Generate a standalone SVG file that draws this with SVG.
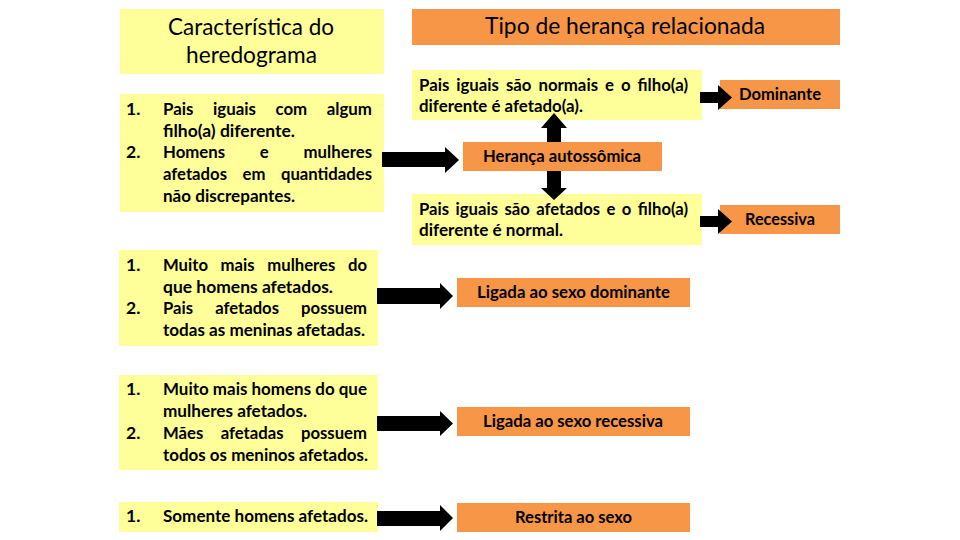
<svg xmlns="http://www.w3.org/2000/svg" width="960" height="540" viewBox="0 0 960 540">
<style>
.y{fill:#FFFF99}
.o{fill:#F79646}
.t{font-family:Lato,"Open Sans","Liberation Sans",sans-serif;font-size:17.5px;font-weight:700;fill:#000}
.h{font-family:Lato,"Open Sans","Liberation Sans",sans-serif;font-size:23px;font-weight:400;fill:#000}
.c{text-anchor:middle}
.arr{fill:#000}
</style>
<rect width="960" height="540" fill="#fff"/>
<g id="header-left">
<rect class="y" x="120" y="9" width="264" height="65"/>
<text class="h c" x="251" y="35" textLength="166" lengthAdjust="spacingAndGlyphs">Característica do</text>
<text class="h c" x="251.5" y="63" textLength="131" lengthAdjust="spacingAndGlyphs">heredograma</text>
</g>
<g id="header-right">
<rect class="o" x="412" y="9" width="428" height="36"/>
<text class="h c" x="625" y="34" textLength="280" lengthAdjust="spacingAndGlyphs">Tipo de herança relacionada</text>
</g>
<g id="box-autossomica-caract">
<rect class="y" x="120" y="94" width="264" height="118"/>
<text class="t" x="126" y="115">1.</text>
<text class="t" x="163" y="115" word-spacing="16" textLength="209" lengthAdjust="spacingAndGlyphs">Pais iguais com algum</text>
<text class="t" x="163" y="137" textLength="132" lengthAdjust="spacingAndGlyphs">filho(a) diferente.</text>
<text class="t" x="126" y="158">2.</text>
<text class="t" x="163" y="158" word-spacing="32" textLength="209" lengthAdjust="spacingAndGlyphs">Homens e mulheres</text>
<text class="t" x="163" y="180" word-spacing="12" textLength="209" lengthAdjust="spacingAndGlyphs">afetados em quantidades</text>
<text class="t" x="163" y="202" textLength="132" lengthAdjust="spacingAndGlyphs">não discrepantes.</text>
</g>
<g id="box-dominante-caract">
<rect class="y" x="119" y="250" width="259" height="96"/>
<text class="t" x="126" y="271">1.</text>
<text class="t" x="163" y="271" word-spacing="9" textLength="204" lengthAdjust="spacingAndGlyphs">Muito mais mulheres do</text>
<text class="t" x="163" y="293" textLength="170" lengthAdjust="spacingAndGlyphs">que homens afetados.</text>
<text class="t" x="126" y="314">2.</text>
<text class="t" x="163" y="314" word-spacing="19" textLength="204" lengthAdjust="spacingAndGlyphs">Pais afetados possuem</text>
<text class="t" x="163" y="336" textLength="202" lengthAdjust="spacingAndGlyphs">todas as meninas afetadas.</text>
</g>
<g id="box-recessiva-caract">
<rect class="y" x="119" y="375" width="259" height="95"/>
<text class="t" x="126" y="395">1.</text>
<text class="t" x="163" y="395" textLength="204" lengthAdjust="spacingAndGlyphs">Muito mais homens do que</text>
<text class="t" x="163" y="417" textLength="144" lengthAdjust="spacingAndGlyphs">mulheres afetados.</text>
<text class="t" x="126" y="439">2.</text>
<text class="t" x="163" y="439" word-spacing="14" textLength="204" lengthAdjust="spacingAndGlyphs">Mães afetadas possuem</text>
<text class="t" x="163" y="461" textLength="205" lengthAdjust="spacingAndGlyphs">todos os meninos afetados.</text>
</g>
<g id="box-restrita-caract">
<rect class="y" x="119" y="502" width="259" height="30"/>
<text class="t" x="126" y="522">1.</text>
<text class="t" x="163" y="522" textLength="205" lengthAdjust="spacingAndGlyphs">Somente homens afetados.</text>
</g>
<g id="box-normais">
<rect class="y" x="412" y="70" width="290" height="50"/>
<text class="t" x="419" y="91" word-spacing="3" textLength="269" lengthAdjust="spacingAndGlyphs">Pais iguais são normais e o filho(a)</text>
<text class="t" x="419" y="112" textLength="164" lengthAdjust="spacingAndGlyphs">diferente é afetado(a).</text>
</g>
<g id="box-autossomica">
<rect class="o" x="463" y="142" width="199" height="29"/>
<text class="t c" x="562" y="162" textLength="158" lengthAdjust="spacingAndGlyphs">Herança autossômica</text>
</g>
<g id="box-afetados">
<rect class="y" x="412" y="194" width="290" height="51"/>
<text class="t" x="419" y="215" word-spacing="2.5" textLength="269" lengthAdjust="spacingAndGlyphs">Pais iguais são afetados e o filho(a)</text>
<text class="t" x="419" y="236" textLength="144" lengthAdjust="spacingAndGlyphs">diferente é normal.</text>
</g>
<g id="box-dominante">
<rect class="o" x="720" y="80" width="120" height="29"/>
<text class="t c" x="780" y="100" textLength="82" lengthAdjust="spacingAndGlyphs">Dominante</text>
</g>
<g id="box-recessiva">
<rect class="o" x="720" y="205" width="120" height="29"/>
<text class="t c" x="780" y="225" textLength="70" lengthAdjust="spacingAndGlyphs">Recessiva</text>
</g>
<g id="box-ligada-dominante">
<rect class="o" x="457" y="278" width="233" height="29"/>
<text class="t c" x="573.5" y="298" textLength="193" lengthAdjust="spacingAndGlyphs">Ligada ao sexo dominante</text>
</g>
<g id="box-ligada-recessiva">
<rect class="o" x="457" y="407" width="233" height="29"/>
<text class="t c" x="573" y="427" textLength="180" lengthAdjust="spacingAndGlyphs">Ligada ao sexo recessiva</text>
</g>
<g id="box-restrita">
<rect class="o" x="457" y="503" width="233" height="29"/>
<text class="t c" x="573.5" y="523" textLength="117" lengthAdjust="spacingAndGlyphs">Restrita ao sexo</text>
</g>
<g id="connectors">
<polygon class="arr" points="382,152 445,152 445,147 459,160 445,173 445,167 382,167"/>
<polygon class="arr" points="547,142 547,128 541,128 554,113 567,128 561,128 561,142"/>
<polygon class="arr" points="547,171 547,188 541,188 554,200 567,188 561,188 561,171"/>
<polygon class="arr" points="700,92 718,92 718,85 732,97.5 718,110 718,103 700,103"/>
<polygon class="arr" points="700,216 718,216 718,209 732,221.5 718,234 718,227 700,227"/>
<polygon class="arr" points="377,288 440,288 440,283 453,296 440,309 440,304 377,304"/>
<polygon class="arr" points="377,416 440,416 440,411 453,423.5 440,436 440,431 377,431"/>
<polygon class="arr" points="377,511 440,511 440,505 453,518 440,531 440,526 377,526"/>
</g>
</svg>
